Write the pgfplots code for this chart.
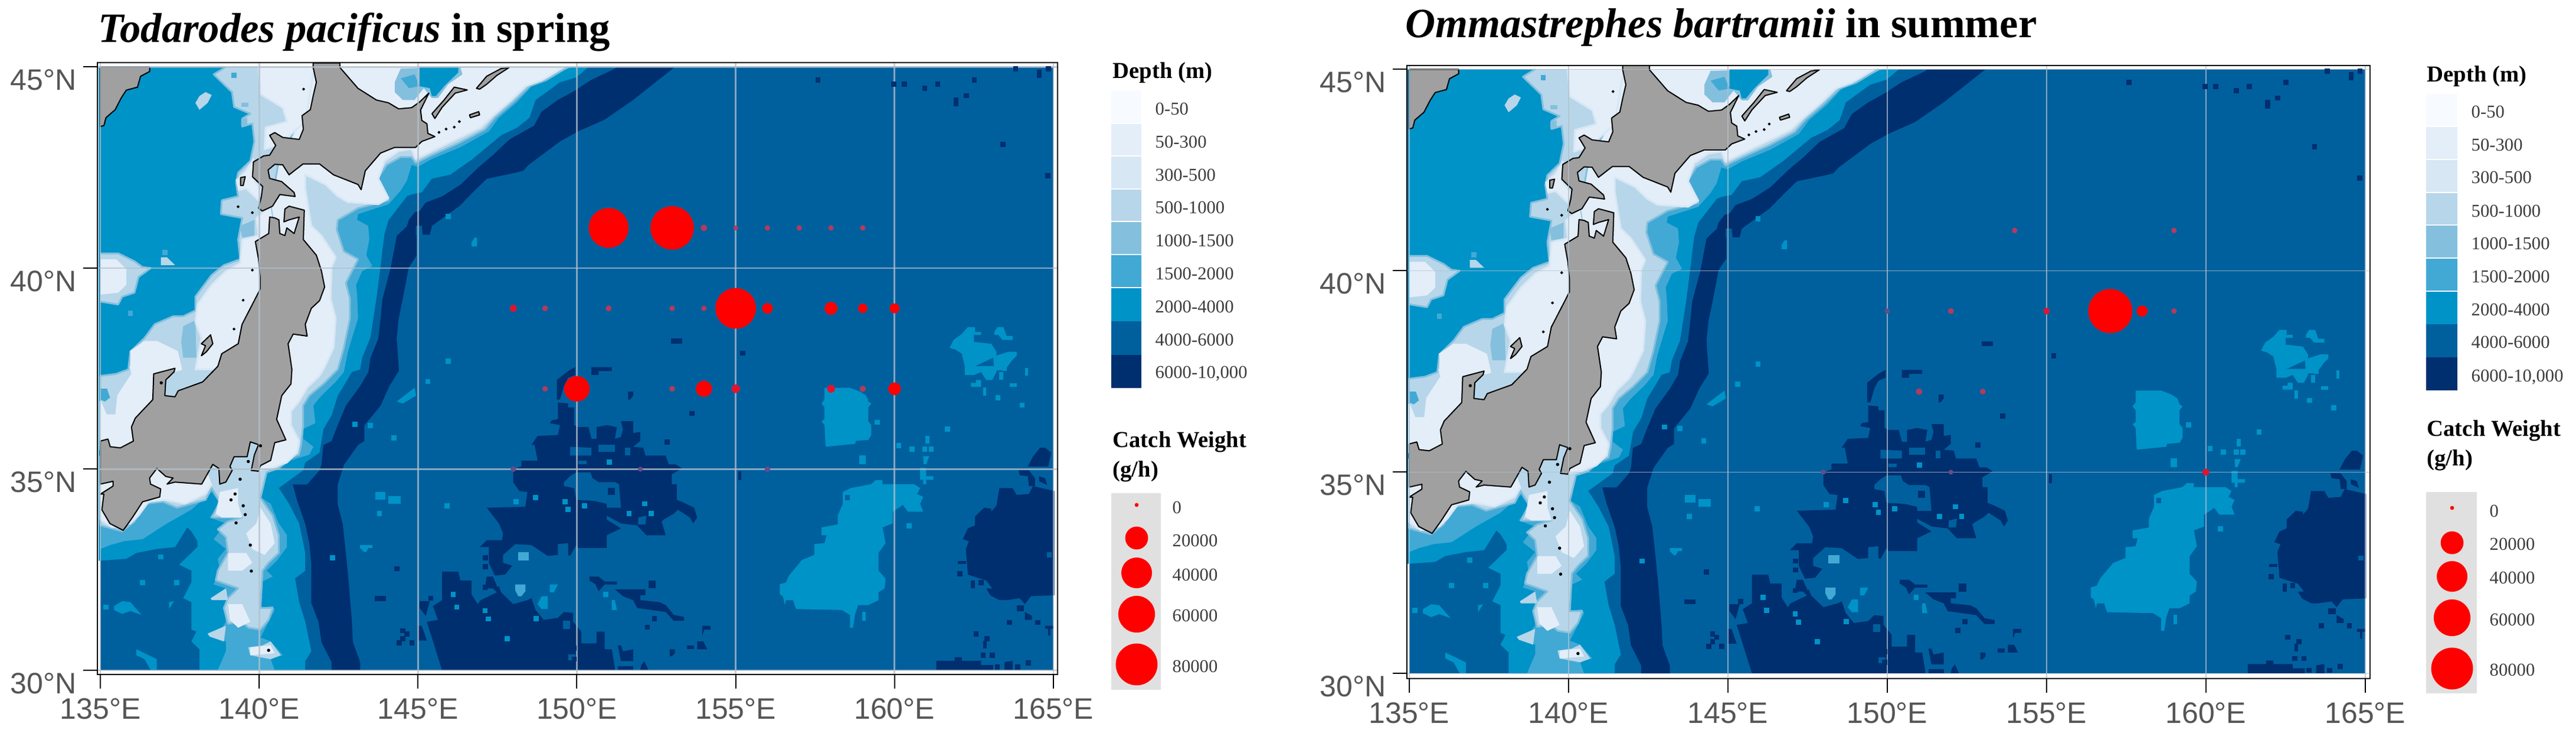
\documentclass[border=0pt]{standalone}
\usepackage{fontspec}
\setmainfont{Liberation Serif}
\setsansfont{Liberation Sans}
\usepackage{pgfplots}
\pgfplotsset{compat=1.18}
\definecolor{cA}{HTML}{F7FBFF}
\definecolor{cB}{HTML}{E3EEF9}
\definecolor{cC}{HTML}{D8E7F4}
\definecolor{cD}{HTML}{B7D6EA}
\definecolor{cE}{HTML}{84C0DD}
\definecolor{cF}{HTML}{42A9D5}
\definecolor{cG}{HTML}{0093C8}
\definecolor{cH}{HTML}{00609E}
\definecolor{cI}{HTML}{002F6F}
\definecolor{land}{HTML}{A0A0A0}
\definecolor{rB}{HTML}{E0142E}
\definecolor{rC}{HTML}{B63A5C}
\definecolor{rD}{HTML}{6A4A88}
\pgfplotsset{
 geo/.style n args={2}{x filter/.expression={#1+x*0.0064},y filter/.expression={#2-y*0.00489}},
 T4/.style={geo={134.907}{45.11}},
 T5/.style={geo={134.907}{37.563}},
 T6/.style={geo={144.846}{37.563}},
 T7/.style={geo={155.063}{37.563}},
 T8/.style={geo={144.846}{45.11}},
 T9/.style={geo={155.063}{45.11}},
 f/.style={fill=#1,draw=none,xshift=-0.8pt},
 ls/.style 2 args={fill=#1,draw=#2,line width=0.9pt,xshift=-0.8pt,line join=round},
 lnd/.style={fill=land,draw=black,line width=0.6pt,xshift=-0.8pt,line join=round},
 spk/.style={only marks,mark=square*,color=#1,mark size=1.15pt,mark options={solid,fill=#1,draw=#1,line width=0pt},xshift=-0.8pt},
 dots/.style={scatter,only marks,mark=*,scatter/use mapped color={draw=#1,fill=#1},
   visualization depends on={0.8+0.034*sqrt(\thisrow{catch}) \as \perpointmarksize},
   scatter/@pre marker code/.append style={/tikz/mark size=\perpointmarksize}},
 panel/.style={axis on top,clip=true,
   axis background/.style={fill=white},
   axis line style={draw=black,line width=0.6pt},
   xtick={135,140,145,150,155,160,165},
   ytick={30,35,40,45},
   xtick pos=bottom,ytick pos=left,
   xticklabels={135°E,140°E,145°E,150°E,155°E,160°E,165°E},
   yticklabels={30°N,35°N,40°N,45°N},
   tick align=outside,major tick length=7.2pt,
   tick style={draw=black,line width=0.6pt},
   grid=major,grid style={draw={rgb,255:red,178;green,192;blue,204},opacity=0.75,line width=0.85pt},
   tick label style={font=\sffamily\fontsize{15}{15}\selectfont,text={rgb,255:red,85;green,85;blue,85}},
   xticklabel style={yshift=-1.5pt},
   yticklabel style={yshift=-6.6pt}}
}
\newcommand\sw[5]{\addplot[fill=#1,draw=none] coordinates {(#2,#4)(#3,#4)(#3,#5)(#2,#5)} --cycle;}
\newcommand\lab[3]{\node[anchor=west,inner sep=0pt,text={rgb,255:red,60;green,60;blue,60},font=\fontsize{9.2}{9.2}\selectfont] at (#1,#2) {#3};}
\newcommand\head[3]{\node[anchor=base west,inner sep=0pt,font=\fontsize{11.6}{11.6}\selectfont\bfseries] at (#1,#2) {#3};}
\newcommand\Bathy{%
\addplot[fill=cH,draw=none] coordinates {(135,30)(165,30)(165,45)(135,45)} --cycle;
% trench
\addplot[f=cI] coordinates {(153.13,45)(151.82,44.18)(150.92,43.69)(150.09,43.40)(149.52,43.15)(148.52,42.56)(148.36,42.42)(148.11,42.37)(147.21,42.22)(146.77,41.88)(146.35,41.54)(145.49,41.05)(145.42,40.83)(145.2,40.83)(145.17,41.05)(144.98,41.05)(144.98,40.82)(145.0,40.82)(145.0,40.3)(144.76,40.02)(144.57,39.24)(144.44,38.75)(144.38,38.26)(144.45,37.45)(144.15,37.07)(143.87,36.58)(143.36,36.09)(143.36,35.70)(143.16,35.6)(142.72,35.11)(142.52,34.62)(142.52,34.13)(142.68,33.64)(142.78,32.91)(142.87,32.17)(142.97,31.2)(143.0,30.7)(143.23,30.2)(143.23,30)(142.33,30)(142.33,30.2)(142.01,30.7)(141.92,31.2)(141.69,31.68)(141.69,32.66)(141.63,33.15)(141.5,33.64)(141.24,34.23)(141.11,34.62)(141.56,34.62)(141.95,34.97)(142.01,35.11)(142.07,35.6)(142.33,35.7)(142.52,36.09)(142.78,36.58)(143.23,37.07)(143.49,37.42)(143.55,37.76)(143.8,38.25)(143.87,38.74)(143.93,39.23)(144.19,40.01)(144.38,40.80)(144.7,41.04)(144.76,41.2)(144.95,41.39)(145.1,41.42)(145.29,41.63)(145.8,41.78)(146.38,42.07)(146.96,42.51)(147.41,42.81)(147.93,43.2)(148.7,43.54)(148.94,43.89)(149.45,44.18)(149.96,44.4)(150.48,44.67)(151.25,44.96)(151.31,45)};
% deep basins west of 155E
\addplot[f=cI,T6] coordinates {(720,185)(770,190)(770,210)(800,210)(800,300)(820,310)(870,310)(885,370)(910,370)(910,310)(960,300)(1010,310)(1000,370)(1030,360)(1040,320)(1030,280)(1090,280)(1090,340)(1125,335)(1125,380)(1090,410)(1140,415)(1150,455)(1250,455)(1265,500)(1300,500)(1330,520)(1280,550)(1280,600)(1305,600)(1305,680)(1330,690)(1390,720)(1405,770)(1385,800)(1370,770)(1310,730)(1290,750)(1240,780)(1230,790)(1250,860)(1155,860)(1110,810)(1030,800)(960,760)(960,780)(1030,825)(960,860)(960,925)(820,925)(810,910)(780,965)(770,960)(770,900)(720,905)(720,960)(670,965)(590,910)(510,905)(450,960)(450,1000)(495,1015)(460,1060)(410,1065)(380,1000)(380,920)(335,920)(370,885)(445,885)(450,850)(430,800)(370,720)(560,715)(570,640)(530,635)(500,590)(500,525)(540,510)(540,480)(620,480)(605,400)(590,400)(620,355)(720,350)(730,300)(680,290)(690,275)(720,270)};
\addplot[f=cI,T6] coordinates {(150,1045)(230,1045)(240,1090)(295,1090)(295,1160)(325,1210)(340,1190)(420,1150)(400,1130)(430,1120)(440,1150)(500,1210)(570,1190)(590,1180)(610,1240)(650,1290)(720,1280)(750,1250)(795,1255)(795,1300)(835,1350)(835,1410)(910,1410)(910,1350)(950,1350)(950,1440)(985,1440)(1000,1535)(1000,1545)(150,1545)(130,1480)(100,1380)(75,1300)(130,1290)(105,1220)(150,1190)};
\addplot[f=cI,T6] coordinates {(715,70)(770,25)(805,5)(805,45)(770,60)(750,100)(730,170)(715,170)};
\addplot[f=cI,T6] coordinates {(885,5)(985,5)(985,25)(920,25)(920,45)(885,45)};
\addplot[f=cI,T6] coordinates {(1065,130)(1090,130)(1090,150)(1075,170)(1065,170)};
\addplot[f=cI,T6] coordinates {(370,1070)(400,1070)(425,1130)(360,1130)};
\addplot[f=cI,T6] coordinates {(875,1070)(920,1070)(950,1095)(1010,1095)(1010,1110)(950,1110)(920,1145)(905,1110)(875,1090)};
\addplot[f=cI,T6] coordinates {(1000,1135)(1150,1135)(1150,1165)(1125,1165)(1125,1190)(1220,1200)(1250,1215)(1290,1265)(1340,1275)(1340,1295)(1290,1295)(1250,1250)(1110,1230)(1090,1190)(1040,1170)};
\addplot[f=cI,T6] coordinates {(1165,1090)(1200,1090)(1200,1130)(1165,1130)};
\addplot[f=cI,T6] coordinates {(1430,1320)(1470,1320)(1470,1340)(1440,1340)(1430,1370)};
\addplot[f=cI,T6] coordinates {(1405,1400)(1435,1400)(1455,1440)(1405,1440)};
\addplot[f=cI,T6] coordinates {(1355,1420)(1390,1420)(1390,1440)(1355,1440)};
\addplot[f=cI,T6] coordinates {(1270,1440)(1295,1440)(1295,1460)(1280,1475)(1270,1475)};
\addplot[f=cI,T6] coordinates {(1015,1420)(1030,1420)(1040,1450)(1090,1440)(1090,1500)(1030,1500)};
\addplot[f=cI,T6] coordinates {(1015,1525)(1090,1525)(1090,1545)(1015,1545)};
\addplot[f=cI,T6] coordinates {(1130,1520)(1145,1500)(1165,1545)(1125,1545)};
\addplot[f=cI,T6] coordinates {(40,1195)(90,1195)(70,1270)(40,1230)};
\addplot[f=cI,T6] coordinates {(30,1320)(50,1320)(75,1395)(30,1395)};
\addplot[f=cH,T6] coordinates {(810,540)(880,540)(890,570)(920,590)(1000,590)(1020,600)(1030,720)(960,720)(960,700)(900,685)(810,680)(800,620)(750,610)(750,590)(780,560)};
\addplot[f=cH,T6] coordinates {(780,410)(885,415)(885,455)(780,455)};
\addplot[f=cH,T6] coordinates {(920,400)(1000,400)(1000,435)(920,435)};
\addplot[f=cH,T6] coordinates {(820,480)(860,480)(860,500)(820,500)};
\addplot[f=cH,T6] coordinates {(1050,415)(1075,415)(1075,455)(1050,455)};
\addplot[f=cH,T6] coordinates {(1115,770)(1155,760)(1150,805)(1115,805)};
\addplot[f=cH,T6] coordinates {(745,1295)(780,1295)(780,1335)(745,1335)};
\addplot[f=cH,T6] coordinates {(770,1465)(805,1465)(805,1495)(770,1495)};
\addplot[f=cI,T6] coordinates {(965,620)(1000,620)(1000,655)(965,655)};
\addplot[spk=cI,T6] coordinates {(1380,240)(1258,387)(95,1180)(363,975)(363,1020)(362,1125)(1195,1283)(1160,1327)(800,1435)(800,1490)};
% deep basins east of 155E
\addplot[f=cI,T7] coordinates {(1295,620)(1360,620)(1380,655)(1440,650)(1460,610)(1565,635)(1565,1165)(1450,1170)(1420,1210)(1395,1180)(1330,1190)(1295,1190)(1250,1165)(1230,1130)(1260,1130)(1230,1090)(1140,1060)(1130,930)(1145,890)(1115,880)(1140,825)(1175,810)(1175,765)(1220,720)(1255,725)(1255,740)(1280,710)};
\addplot[f=cI,T7] coordinates {(1390,530)(1440,530)(1470,570)(1470,610)(1440,610)(1435,560)(1395,555)};
\addplot[f=cI,T7] coordinates {(1490,560)(1520,570)(1530,605)(1490,585)};
\addplot[f=cI,T7] coordinates {(1435,510)(1460,460)(1495,415)(1520,415)(1550,440)(1535,510)};
\addplot[f=cI,T7] coordinates {(1090,990)(1130,990)(1130,1005)(1090,1005)};
\addplot[f=cI,T7] coordinates {(1155,1090)(1175,1090)(1175,1130)(1155,1130)};
\addplot[f=cI,T7] coordinates {(1380,1215)(1415,1215)(1415,1245)(1380,1245)};
\addplot[f=cI,T7] coordinates {(1420,1250)(1455,1270)(1455,1290)(1420,1290)};
\addplot[f=cI,T7] coordinates {(1520,1320)(1562,1320)(1562,1335)(1545,1335)(1545,1370)(1535,1370)(1535,1335)(1520,1335)};
\addplot[f=cI,T7] coordinates {(985,1498)(1075,1498)(1075,1480)(1110,1480)(1110,1498)(1205,1498)(1205,1520)(1265,1520)(1265,1545)(985,1545)};
\addplot[f=cI,T7] coordinates {(1320,1505)(1360,1498)(1360,1545)(1320,1545)};
\addplot[f=cI,T7] coordinates {(1215,1395)(1232,1395)(1232,1435)(1215,1435)};
\addplot[f=cI,T7] coordinates {(10,535)(25,535)(25,580)(10,580)};
\addplot[spk=cI,T7] coordinates {(1100,1055)(1205,1100)(1345,1303)(1483,1303)(1235,1385)(1180,1362)(1215,1470)(1260,1470)(1438,1510)(1285,1530)(1385,1530)};
\addplot[spk=cI,T9] coordinates {(402,88)(775,110)(828,110)(928,130)(992,110)(1172,88)(1132,168)(1082,190)(1082,210)(1312,415)(1534,575)(1375,32)(1491,50)(1491,65)(1535,32)(33,1477)};
\addplot[spk=cI,T5] coordinates {(1400,1182)(1385,1182)(1415,1182)(1510,1345)(1530,1362)(1510,1385)(1492,1408)(1555,1408)(1480,1030)};
\addplot[spk=cI,T8] coordinates {(1305,1415)(1290,1415)(1320,1415)};
% 2000-4000
\addplot[f=cG,T4] coordinates {(14,22)(2423,22)(2363,75)(2283,100)(2163,190)(2133,280)(2073,330)(1993,370)(1923,430)(1853,490)(1743,570)(1653,590)(1603,660)(1553,670)(1530,680)(1440,800)(1420,870)(1410,950)(1400,1040)(1380,1200)(1350,1400)(1310,1500)(1300,1560)(1260,1573)(1190,1693)(1160,1793)(1120,1863)(1100,1983)(1030,2033)(1020,2073)(900,2163)(950,2243)(1000,2343)(1030,2493)(1030,2583)(980,2623)(1000,2743)(1030,2843)(1060,2993)(1030,3043)(1030,3090)(510,3090)(510,2983)(470,2943)(495,2893)(470,2883)(470,2743)(430,2723)(470,2643)(470,2583)(410,2553)(500,2463)(500,2433)(470,2383)(450,2363)(390,2463)(300,2473)(200,2493)(150,2523)(14,2533)};
\addplot[f=cG,T5] coordinates {(90,1220)(130,1195)(170,1200)(225,1265)(170,1245)(130,1260)(90,1240)};
\addplot[f=cG,T5] coordinates {(200,1440)(240,1460)(300,1490)(300,1545)(270,1545)(240,1490)(200,1470)};
\addplot[f=cG,T5] coordinates {(360,1200)(385,1195)(360,1235)};
\addplot[f=cG,T5] coordinates {(1375,640)(1425,640)(1425,680)(1375,680)};
\addplot[f=cG,T5] coordinates {(1440,660)(1500,660)(1500,700)(1440,700)};
\addplot[f=cG,T5] coordinates {(1300,910)(1360,910)(1360,925)(1340,925)(1330,945)(1320,945)(1300,925)};
\addplot[f=cG,T5] coordinates {(1480,180)(1568,110)(1575,150)(1510,190)};
\addplot[spk=cG,T5] coordinates {(1467,365)(1350,302)(1275,295)(1395,750)(1165,975)(230,1100)(398,1100)(50,1225)(320,970)};
\addplot[f=cG,T8] coordinates {(295,915)(310,890)(322,890)(322,935)(295,935)};
\addplot[spk=cG,T8] coordinates {(180,782)(180,1518)};
\addplot[f=cF,T6] coordinates {(525,945)(578,945)(578,988)(525,988)};
\addplot[f=cF,T6] coordinates {(510,1110)(560,1110)(560,1145)(540,1170)(525,1170)(510,1140)};
\addplot[f=cG,T6] coordinates {(680,1110)(720,1110)(700,1150)(680,1150)};
\addplot[f=cG,T6] coordinates {(640,1170)(670,1170)(670,1235)(640,1235)(620,1210)};
\addplot[f=cG,T6] coordinates {(985,1190)(1000,1190)(1010,1240)(985,1240)};
\addplot[spk=cG,T6] coordinates {(80,78)(175,710)(515,690)(955,1160)(610,668)(1147,700)(1178,750)(770,728)(755,690)(850,710)(205,1160)(222,1225)(378,1285)(612,1283)(470,1385)(362,1243)(1070,750)(972,488)};
\addplot[f=cG,T9] coordinates {(1050,1450)(1070,1410)(1110,1380)(1140,1345)(1175,1345)(1175,1370)(1205,1370)(1205,1385)(1170,1385)(1170,1420)(1255,1430)(1280,1470)(1280,1490)(1340,1470)(1380,1470)(1380,1490)(1360,1510)(1320,1565)(1270,1565)(1265,1500)(1130,1565)(1110,1480)(1080,1460)};
\addplot[f=cG,T9] coordinates {(1270,1370)(1285,1345)(1315,1345)(1330,1390)(1360,1390)(1360,1410)(1310,1410)(1290,1385)(1270,1385)};
\addplot[f=cG,T7] coordinates {(435,110)(560,110)(610,130)(640,150)(650,180)(665,190)(650,210)(650,280)(665,300)(665,350)(650,375)(590,380)(585,395)(440,410)(435,300)(420,280)(435,270)(435,210)(420,190)(435,170)};
\addplot[f=cG,T7] coordinates {(665,600)(685,580)(720,580)(720,600)(875,600)(905,620)(890,650)(920,665)(905,700)(920,740)(845,740)(820,705)(800,720)(770,740)(770,800)(720,820)(735,900)(700,950)(700,1040)(735,1080)(730,1130)(700,1150)(700,1190)(650,1215)(600,1215)(585,1260)(575,1330)(560,1330)(560,1265)(520,1240)(295,1235)(280,1190)(245,1190)(240,1215)(230,1170)(215,1160)(215,1110)(245,1100)(260,1065)(325,985)(385,960)(385,905)(435,900)(445,860)(420,860)(420,820)(500,805)(500,760)(525,700)(525,640)(565,620)};
\addplot[f=cG,T7] coordinates {(1125,0)(1280,0)(1280,30)(1260,70)(1230,70)(1205,30)(1170,45)(1125,45)};
\addplot[f=cG,T7] coordinates {(1155,85)(1180,85)(1180,70)(1205,70)(1205,105)(1155,105)};
\addplot[f=cG,T7] coordinates {(1345,88)(1380,88)(1380,105)(1345,105)};
\addplot[f=cG,T7] coordinates {(1215,108)(1230,108)(1230,150)(1215,150)};
\addplot[f=cG,T7] coordinates {(605,455)(638,455)(638,498)(605,498)};
\addplot[f=cG,T7] coordinates {(930,355)(950,355)(950,395)(930,395)};
\addplot[f=cG,T7] coordinates {(920,458)(950,458)(935,498)(922,498)};
\addplot[f=cG,T7] coordinates {(905,518)(935,518)(935,560)(970,560)(970,578)(935,578)(935,600)(920,600)(920,578)(905,578)};
\addplot[f=cG,T7] coordinates {(1295,30)(1315,30)(1315,70)(1295,70)};
\addplot[f=cG,T7] coordinates {(1420,8)(1435,8)(1435,48)(1420,48)};
\addplot[f=cG,T7] coordinates {(620,1248)(638,1248)(638,1295)(620,1295)};
\addplot[spk=cG,T7] coordinates {(695,285)(1040,320)(865,423)(928,423)(960,423)(850,812)(1288,160)(1407,198)(1320,12)(800,404)};
\addplot[spk=cH,T7] coordinates {(548,668)(1540,960)};
% Pacific shelf
\addplot[f=cF,T4] coordinates {(2343,22)(2233,70)(2153,110)(2073,200)(1983,280)(1933,350)(1793,430)(1653,490)(1583,530)(1553,520)(1530,600)(1500,650)(1440,720)(1290,770)(1285,800)(1340,830)(1345,900)(1330,980)(1360,1035)(1310,1060)(1280,1130)(1285,1180)(1290,1300)(1260,1400)(1240,1470)(1220,1573)(1180,1623)(1110,1693)(1070,1743)(1080,1833)(1020,1863)(1020,1913)(1070,1953)(1050,1993)(960,2023)(900,2068)(810,2075)(800,2143)(800,2203)(860,2243)(900,2343)(940,2403)(940,2463)(890,2533)(840,2583)(870,2613)(810,2643)(810,2773)(870,2763)(880,2783)(850,2843)(810,2923)(860,2943)(920,3013)(860,3033)(880,3090)(600,3090)(640,2993)(640,2943)(560,2913)(610,2893)(640,2843)(630,2773)(670,2723)(570,2723)(640,2673)(580,2653)(610,2583)(600,2523)(640,2473)(580,2423)(640,2343)(560,2313)(610,2243)(570,2183)(470,2273)(350,2343)(290,2383)(230,2423)(140,2433)(70,2453)(22,2473)(22,2000)(1000,1700)(850,1200)(850,800)(800,500)(1100,22)};
\addplot[ls={cD}{cE},T4] coordinates {(2323,22)(2213,90)(2133,120)(2053,200)(1963,280)(1913,340)(1783,410)(1653,470)(1573,510)(1553,480)(1500,480)(1430,520)(1380,600)(1440,700)(1290,740)(1190,800)(1185,850)(1220,960)(1290,1000)(1230,1120)(1250,1200)(1250,1300)(1220,1450)(1190,1560)(1120,1633)(1050,1693)(1020,1743)(1020,1843)(1010,1943)(1000,1993)(950,2013)(900,2063)(840,2083)(810,2213)(870,2303)(900,2403)(900,2493)(850,2543)(820,2583)(810,2773)(870,2773)(850,2833)(810,2883)(750,2873)(720,2843)(650,2853)(630,2773)(650,2723)(700,2673)(590,2633)(600,2583)(650,2493)(640,2413)(600,2373)(650,2333)(720,2313)(570,2313)(610,2233)(570,2163)(540,2223)(400,2263)(330,2233)(240,2243)(190,2333)(130,2383)(22,2353)(22,2000)(1000,1700)(850,1200)(850,800)(800,500)(1100,22)};
\addplot[f=cD,T5] coordinates {(750,1430)(820,1420)(860,1400)(910,1470)(860,1490)(760,1470)};
\addplot[f=cD,T5] coordinates {(565,1180)(640,1130)(650,1190)(570,1190)};
\addplot[f=cD,T5] coordinates {(550,1360)(640,1320)(630,1400)(560,1375)};
\addplot[ls={cB}{cC},T4] coordinates {(2303,22)(2193,90)(2113,120)(2043,190)(1953,270)(1893,330)(1773,390)(1653,450)(1573,490)(1553,440)(1490,450)(1420,500)(1390,590)(1440,690)(1390,720)(1240,710)(1190,680)(1130,620)(1030,570)(1030,640)(1060,830)(1110,880)(1180,990)(1160,1040)(1155,1200)(1180,1300)(1170,1450)(1120,1560)(1100,1593)(1040,1653)(1000,1723)(960,1773)(960,1843)(1000,1923)(990,1983)(940,2033)(860,2063)(800,2073)(800,1700)(850,1200)(850,800)(800,500)(1100,22)};
\addplot[ls={cB}{cC},T4] coordinates {(570,2143)(540,2193)(440,2243)(340,2223)(260,2233)(210,2303)(170,2343)(80,2363)(22,2323)(22,2000)(500,1950)};
\addplot[f=cB,T5] coordinates {(610,640)(700,620)(700,700)(720,770)(620,770)(590,750)(600,700)};
\addplot[f=cB,T5] coordinates {(810,720)(860,800)(880,900)(830,960)(770,930)(740,850)(790,800)};
\addplot[f=cB,T5] coordinates {(650,950)(740,950)(770,1000)(720,1040)(650,1040)};
\addplot[f=cB,T5] coordinates {(650,1210)(720,1210)(760,1300)(700,1330)(660,1290)};
\addplot[f=cB,T5] coordinates {(760,1430)(860,1420)(880,1460)(760,1470)};
% Okhotsk
\addplot[f=cE,T4] coordinates {(1470,100)(1500,30)(1793,22)(1803,60)(1733,110)(1683,180)(1653,180)(1613,130)(1568,190)(1510,190)(1470,150)};
\addplot[f=cF,T4] coordinates {(1500,80)(1568,60)(1593,120)(1540,130)};
\addplot[f=cG,T4] coordinates {(1593,22)(1783,22)(1783,50)(1713,120)(1673,170)(1653,170)(1643,130)(1593,120)};
% Sea of Japan shelf
\addplot[ls={cD}{cE},T4] coordinates {(640,22)(580,60)(670,150)(680,225)(760,260)(720,285)(720,325)(770,310)(780,400)(760,500)(700,560)(690,610)(700,680)(620,700)(615,770)(720,790)(700,900)(710,1000)(630,1030)(570,1080)(490,1190)(490,1260)(430,1290)(380,1290)(290,1330)(240,1400)(170,1470)(160,1560)(100,1583)(22,1593)(22,1950)(500,1800)(800,1500)(900,1000)(870,800)(860,730)(900,500)(1000,300)(1075,22)};
\addplot[f=cE,T4] coordinates {(430,1340)(490,1310)(495,1500)(430,1500)(420,1420)};
\addplot[f=cE,T4] coordinates {(710,830)(780,800)(780,880)(720,890)};
\addplot[f=cE,T4] coordinates {(715,205)(750,205)(750,225)(715,225)};
\addplot[f=cE,T4] coordinates {(715,290)(745,280)(745,320)(715,320)};
\addplot[ls={cB}{cC},T4] coordinates {(800,22)(810,160)(920,230)(940,300)(835,330)(830,440)(900,420)(1030,300)(1075,22)};
\addplot[ls={cB}{cC},T4] coordinates {(690,600)(740,550)(775,490)(780,600)(815,650)(800,700)(740,640)(700,650)};
\addplot[ls={cB}{cC},T4] coordinates {(860,730)(790,790)(800,880)(720,900)(710,1020)(640,1060)(570,1130)(500,1230)(490,1320)(520,1400)(490,1560)(600,1560)(900,1300)(900,900)(870,800)};
\addplot[ls={cB}{cB},T4] coordinates {(170,1470)(240,1420)(300,1420)(400,1470)(420,1560)(300,1590)(290,1743)(200,1970)(22,1970)(22,1723)(50,1793)(100,1793)(110,1693)(180,1583)(170,1543)};
\addplot[f=cF,T5] coordinates {(22,115)(55,115)(70,160)(45,180)(22,170)};
\addplot[ls={cD}{cE},T4] coordinates {(22,970)(110,970)(190,1010)(230,1040)(270,1045)(210,1090)(190,1170)(130,1190)(110,1230)(22,1215)};
\addplot[f=cB,T4] coordinates {(22,1000)(100,1000)(150,1050)(150,1130)(110,1170)(22,1180)};
\addplot[f=cD,T4] coordinates {(490,205)(510,170)(540,150)(570,165)(550,205)(510,240)};
\addplot[f=cD,T4] coordinates {(320,990)(350,990)(390,1030)(320,1030)};
\addplot[spk=cF,T4] coordinates {(170,1275)(340,965)(680,65)};
% land
\addplot[lnd] coordinates {(141.75,45.1)(141.75,44.99)(141.85,44.62)(141.75,44.28)(141.66,43.94)(141.40,43.79)(141.44,43.45)(141.31,43.2)(140.79,43.25)(140.54,43.37)(140.38,43.3)(140.57,43.05)(140.38,42.81)(140.19,42.79)(139.87,42.64)(139.84,42.27)(140.16,42.03)(140.12,41.78)(140.03,41.49)(140.15,41.42)(140.47,41.54)(140.7,41.83)(141.18,41.78)(141.15,41.88)(140.76,42.15)(140.38,42.23)(140.33,42.44)(140.54,42.58)(140.79,42.57)(140.99,42.32)(141.43,42.59)(141.95,42.59)(142.39,42.32)(143.16,42.08)(143.26,41.95)(143.39,42.42)(143.87,42.86)(144.31,43.0)(144.97,43.0)(145.17,43.15)(145.58,43.27)(145.36,43.35)(145.33,43.59)(145.17,43.67)(145.13,43.93)(145.39,44.35)(145.1,44.13)(144.85,43.99)(144.44,43.96)(144.12,44.11)(143.74,44.18)(143.16,44.47)(142.59,44.99)(142.59,45.1)} --cycle;
\addplot[lnd] coordinates {(140.38,41.27)(140.54,41.25)(140.67,41.2)(140.7,40.86)(140.86,40.81)(140.92,41.0)(141.15,40.86)(141.31,41.27)(140.99,41.2)(140.83,41.15)(140.86,41.47)(140.99,41.54)(141.47,41.44)(141.44,40.71)(141.85,40.32)(142.01,39.93)(142.11,39.53)(141.95,39.19)(141.69,39.0)(141.5,38.6)(141.56,38.31)(141.12,38.36)(140.96,38.12)(141.08,37.48)(141.05,37.12)(140.76,36.83)(140.6,36.24)(140.89,35.73)(140.54,35.66)(140.41,35.22)(140.09,35.09)(140.03,34.95)(139.8,34.97)(139.9,35.36)(140.03,35.61)(139.77,35.68)(139.67,35.31)(139.26,35.31)(139.13,35.07)(139.2,34.97)(139.0,34.68)(138.81,34.63)(138.78,35.02)(138.59,35.12)(138.24,34.63)(137.4,34.68)(137.15,34.63)(137.34,34.78)(137.11,34.82)(136.83,35.02)(136.6,34.78)(136.63,34.63)(136.95,34.51)(136.92,34.31)(136.38,34.19)(136.06,33.8)(135.77,33.48)(135.35,33.65)(135.1,33.99)(135.16,34.38)(135.05,34.38)(135.45,34.58)(135.45,34.7)(135.05,34.63)(135.05,35.7)(135.29,35.75)(135.36,35.56)(135.68,35.53)(136.09,35.7)(136.03,36.05)(136.15,36.27)(136.7,36.73)(136.73,37.37)(137.4,37.51)(137.37,37.42)(137.11,37.22)(137.08,36.83)(137.4,36.8)(137.5,36.95)(138.27,37.17)(138.75,37.56)(138.87,37.87)(139.39,38.12)(139.51,38.6)(139.96,39.29)(140.08,39.48)(140.08,39.78)(140.03,40.22)(139.93,40.66)(140.35,40.86)} --cycle;
\addplot[lnd,T4] coordinates {(265,22)(265,45)(220,70)(205,125)(150,140)(125,180)(95,240)(50,280)(40,320)(22,325)(22,22)} --cycle;
\addplot[lnd] coordinates {(138.52,38.34)(138.59,38.12)(138.39,37.92)(138.23,37.82)(138.36,38.07)(138.23,38.12)} --cycle;
\addplot[lnd] coordinates {(146.89,44.47)(147.21,44.77)(147.66,44.96)(147.92,44.99)(147.53,44.79)(147.21,44.57)(146.99,44.45)} --cycle;
\addplot[lnd] coordinates {(145.49,43.84)(145.87,44.18)(146.19,44.5)(146.6,44.43)(146.22,44.35)(145.81,44.0)(145.58,43.72)} --cycle;
\addplot[lnd] coordinates {(146.67,43.81)(146.96,43.89)(146.99,43.81)(146.7,43.74)} --cycle;
\addplot[lnd,T4] coordinates {(712,585)(735,580)(725,625)(712,625)} --cycle;
\addplot[only marks,mark=*,mark size=0.5pt,black,xshift=-0.8pt,T4] coordinates {(1022,135)(700,733)(770,763)(680,1355)(725,1208)(770,1055)};
\addplot[only marks,mark=*,mark size=0.6pt,black,xshift=-0.8pt,T5] coordinates {(710,575)(685,650)(665,680)(725,710)(735,755)(690,797)(760,910)(765,1042)(850,1445)(322,85)(750,485)(810,405)};
\addplot[only marks,mark=*,mark size=0.5pt,black,xshift=-0.8pt,T8] coordinates {(135,355)(170,338)(210,328)(235,300)};
}
\begin{document}
\begin{tikzpicture}[x=1pt,y=1pt]
\path[use as bounding box] (0,0) rectangle (1309.5,375.6);
\node[anchor=base west,inner sep=0pt,font=\fontsize{21.2}{21.2}\selectfont\bfseries] at (49.8,354) {\textit{Todarodes pacificus} in spring};
\node[anchor=base west,inner sep=0pt,font=\fontsize{21.2}{21.2}\selectfont\bfseries] at (714.3,356.4) {\textit{Ommastrephes bartramii} in summer};

\begin{axis}[panel,anchor=south west,at={(49.5pt,33pt)},x=16.149pt,y=20.43pt,
  xmin=134.907,xmax=165.13,ymin=29.897,ymax=45.11]
\Bathy
\addplot[dots=red] table {
lon lat catch
151 41 72000
153 41 87000
155 39 75000
150 37 26000
154 37 8400
156 39 2600
158 39 4500
159 39 1600
160 39 2000
160 37 4200
};
\addplot[dots=rB] table {
lon lat catch
148 39 600
155 37 1200
158 37 900
};
\addplot[dots=rC] table {
lon lat catch
149 39 150
151 39 200
153 39 120
154 39 120
149 37 120
153 37 150
159 37 250
154 41 350
155 41 40
156 41 100
157 41 100
158 41 100
159 41 100
};
\addplot[dots=rD] table {
lon lat catch
148 35 120
152 35 40
156 35 120
};
\end{axis}

\begin{axis}[panel,anchor=south west,at={(715.2pt,30.9pt)},x=16.2pt,y=20.46pt,
  xmin=134.93,xmax=165.15,ymin=29.875,ymax=45.09,
  grid style={draw={rgb,255:red,178;green,192;blue,204},opacity=0.75,line width=0.55pt}]
\Bathy
\addplot[dots=red] table {
lon lat catch
157 39 90000
158 39 2800
};
\addplot[dots=rB] table {
lon lat catch
155 39 350
160 35 500
};
\addplot[dots=rC] table {
lon lat catch
159 39 120
152 39 200
154 41 120
159 41 100
151 37 300
153 37 150
};
\addplot[dots=rD] table {
lon lat catch
150 39 80
148 35 40
152 35 40
};
\end{axis}

% legends, on an overlay axis in image pixels
\begin{axis}[hide axis,anchor=south west,at={(0pt,0pt)},x=0.3pt,y=0.3pt,
  xmin=0,xmax=4365,ymin=0,ymax=1252,y dir=reverse,clip=false]
\sw{cA}{1883}{1934}{153}{208}\sw{cB}{1883}{1934}{210}{263}\sw{cC}{1883}{1934}{265}{319}
\sw{cD}{1883}{1934}{321}{374}\sw{cE}{1883}{1934}{376}{430}\sw{cF}{1883}{1934}{432}{486}
\sw{cG}{1883}{1934}{488}{544}\sw{cH}{1883}{1934}{544}{601}\sw{cI}{1883}{1934}{601}{657}
\sw{cA}{4111}{4164}{159}{213}\sw{cB}{4111}{4164}{215}{269}\sw{cC}{4111}{4164}{271}{325}
\sw{cD}{4111}{4164}{327}{380}\sw{cE}{4111}{4164}{382}{436}\sw{cF}{4111}{4164}{438}{492}
\sw{cG}{4111}{4164}{494}{549}\sw{cH}{4111}{4164}{549}{605}\sw{cI}{4111}{4164}{605}{661}
\sw{black!12}{1883}{1967}{835}{1168}
\sw{black!12}{4111}{4197}{833}{1174}
\head{1885}{132}{Depth (m)}
\head{4112}{138}{Depth (m)}
\head{1885}{757}{Catch Weight}
\head{1885}{807}{(g/h)}
\head{4112}{738}{Catch Weight}
\head{4112}{788}{(g/h)}
\lab{1957}{184}{0-50}\lab{1957}{240}{50-300}\lab{1957}{296}{300-500}\lab{1957}{351}{500-1000}\lab{1957}{407}{1000-1500}\lab{1957}{463}{1500-2000}\lab{1957}{519}{2000-4000}\lab{1957}{575}{4000-6000}\lab{1957}{633}{6000-10,000}
\lab{4187}{189}{0-50}\lab{4187}{245}{50-300}\lab{4187}{300}{300-500}\lab{4187}{357}{500-1000}\lab{4187}{412}{1000-1500}\lab{4187}{468}{1500-2000}\lab{4187}{524}{2000-4000}\lab{4187}{579}{4000-6000}\lab{4187}{639}{6000-10,000}
\lab{1986}{859}{0}\lab{1986}{915}{20000}\lab{1986}{973}{40000}\lab{1986}{1042}{60000}\lab{1986}{1128}{80000}
\lab{4218}{865}{0}\lab{4218}{921}{20000}\lab{4218}{978}{40000}\lab{4218}{1049}{60000}\lab{4218}{1134}{80000}
\addplot[dots=red] table {
x y catch
1926 855 0
1926 911 20000
1926 970 40000
1926 1040 60000
1926 1125 80000
4155 860 0
4155 919 20000
4155 976 40000
4155 1046 60000
4155 1132 80000
};
\end{axis}
\end{tikzpicture}
\end{document}
